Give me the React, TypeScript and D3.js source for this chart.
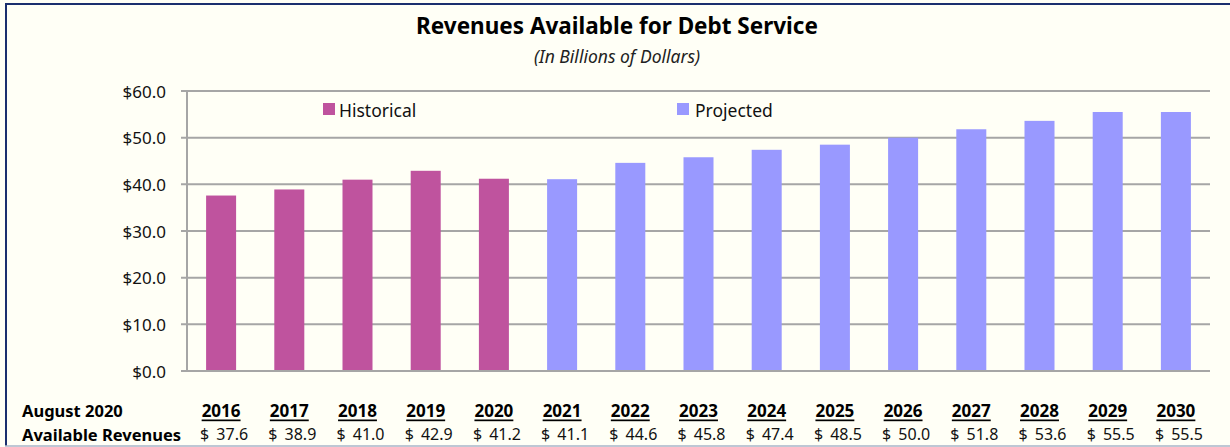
import * as d3 from "d3";

const years = ["2016", "2017", "2018", "2019", "2020", "2021", "2022", "2023", "2024", "2025", "2026", "2027", "2028", "2029", "2030"];
const revenues = [37.6, 38.9, 41.0, 42.9, 41.2, 41.1, 44.6, 45.8, 47.4, 48.5, 50.0, 51.8, 53.6, 55.5, 55.5];
const historicalYears = ["2016", "2017", "2018", "2019", "2020"];
const yTicks = [0, 10, 20, 30, 40, 50, 60];

const HIST = "#bf539e";
const PROJ = "#9999ff";
const FONT = "'Noto Sans', 'Open Sans', sans-serif";

export default function App() {
  const width = 1230;
  const height = 447;
  const plot = { left: 187, right: 1210, top: 91, bottom: 371 };

  const x = d3.scaleBand().domain(years).range([plot.left, plot.right]).paddingInner(0.56).paddingOuter(0.28);
  const y = d3.scaleLinear().domain([0, 60]).range([plot.bottom, plot.top]);

  const center = (yr: string) => (x(yr) || 0) + x.bandwidth() / 2;

  return (
    <svg width={width} height={height} style={{ display: "block", position: "absolute", left: 0, top: 0 }} fontFamily={FONT}>
      <rect x={0} y={0} width={width} height={height} fill="#fffff6" />
      {/* frame */}
      <line x1={6} y1={4} x2={6} y2={446} stroke="#1a2f6e" strokeWidth={2} />
      <line x1={5} y1={4} x2={1230} y2={4} stroke="#1a2f6e" strokeWidth={2} />
      <line x1={5} y1={446} x2={1230} y2={446} stroke="#a8b4c8" strokeWidth={1.5} />

      <text x={617} y={34} textAnchor="middle" fontSize={22.5} fontWeight="bold" fill="#000">
        Revenues Available for Debt Service
      </text>
      <text x={617} y={63} textAnchor="middle" fontSize={17.5} fontStyle="italic" fill="#222">
        (In Billions of Dollars)
      </text>

      {/* gridlines + y axis */}
      {yTicks.map((t) => (
        <g key={t}>
          <line x1={plot.left - 6} x2={plot.right} y1={y(t)} y2={y(t)} stroke="#a6a6a6" strokeWidth={2} />
          <text x={166} y={y(t)} textAnchor="end" dominantBaseline="central" fontSize={17} fill="#111">
            {`$${t.toFixed(1)}`}
          </text>
        </g>
      ))}
      <line x1={plot.left} x2={plot.left} y1={plot.top} y2={plot.bottom + 1} stroke="#a6a6a6" strokeWidth={2} />

      {/* bars */}
      {years.map((yr, i) => (
        <rect
          key={yr}
          x={x(yr)}
          y={y(revenues[i])}
          width={x.bandwidth()}
          height={y(0) - y(revenues[i]) - 1}
          fill={historicalYears.includes(yr) ? HIST : PROJ}
        />
      ))}

      {/* legend */}
      <rect x={323} y={103} width={12} height={12} fill={HIST} />
      <text x={339} y={110} dominantBaseline="central" fontSize={17.5} fill="#111">Historical</text>
      <rect x={677} y={103} width={12} height={12} fill={PROJ} />
      <text x={695} y={110} dominantBaseline="central" fontSize={17.5} fill="#111">Projected</text>

      {/* data table */}
      <text x={22} y={410} dominantBaseline="central" fontSize={16.5} fontWeight="bold" fill="#000">August 2020</text>
      <text x={22} y={434} dominantBaseline="central" fontSize={16.5} fontWeight="bold" fill="#000">Available Revenues</text>
      {years.map((yr, i) => (
        <g key={`t-${yr}`}>
          <text x={center(yr)} y={410} textAnchor="middle" dominantBaseline="central" fontSize={17} fontWeight="bold" textDecoration="underline" fill="#000">
            {yr}
          </text>
          <text x={center(yr) - 21} y={434} dominantBaseline="central" fontSize={16} fill="#111">$</text>
          <text x={center(yr) + 27} y={434} textAnchor="end" dominantBaseline="central" fontSize={16} fill="#111">
            {revenues[i].toFixed(1)}
          </text>
        </g>
      ))}
    </svg>
  );
}
